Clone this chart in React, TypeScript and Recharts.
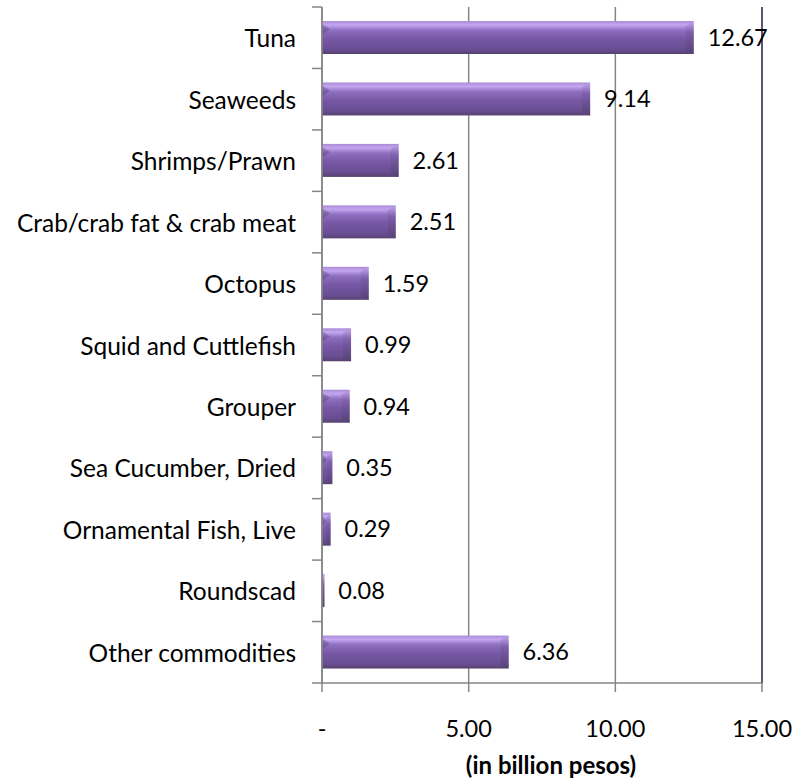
import React from 'react';
import { BarChart, Bar, XAxis, YAxis, CartesianGrid, LabelList, ReferenceLine } from 'recharts';

// categories and export values (billion pesos), top to bottom
const categories = [
  'Tuna',
  'Seaweeds',
  'Shrimps/Prawn',
  'Crab/crab fat & crab meat',
  'Octopus',
  'Squid and Cuttlefish',
  'Grouper',
  'Sea Cucumber, Dried',
  'Ornamental Fish, Live',
  'Roundscad',
  'Other commodities',
];
const values = [12.67, 9.14, 2.61, 2.51, 1.59, 0.99, 0.94, 0.35, 0.29, 0.08, 6.36];
const xTicks = [0, 5, 10, 15];

const data = categories.map((name, i) => ({ name, value: values[i] }));

const FONT = 'Lato, "Open Sans", sans-serif';
const AXIS_GRAY = '#868686';
const BORDER = '#4a3a62';

const CategoryTick = (props: any) => {
  const { x, y, payload } = props;
  const half = payload && payload.offset ? payload.offset : 30.7;
  const axisX = x + 26;
  const last = payload.index === categories.length - 1;
  return (
    <g>
      <line x1={axisX - 10} x2={axisX} y1={y - half} y2={y - half} stroke={AXIS_GRAY} strokeWidth={1.5} />
      {last && <line x1={axisX - 10} x2={axisX} y1={y + half} y2={y + half} stroke={AXIS_GRAY} strokeWidth={1.5} />}
      <text x={x} y={y} textAnchor="end" dominantBaseline="central" fontSize={24.5} fontFamily={FONT} fill="#000">
        {payload.value}
      </text>
    </g>
  );
};

const BevelBar = (props: any) => {
  const { x, y, width, height } = props;
  if (!width || width <= 0) return null;
  const b = Math.min(8, width / 2);
  return (
    <g>
      <rect x={x} y={y} width={width} height={height} fill="url(#barGrad)" />
      <polygon
        points={`${x},${y + 3} ${x + b},${y + 8} ${x},${y + 14}`}
        fill="#4e3a6e"
        opacity={0.35}
      />
      <polygon
        points={`${x + width - b},${y + 5} ${x + width},${y} ${x + width},${y + height} ${x + width - b},${y + height - 4}`}
        fill="url(#capGrad)"
        opacity={0.8}
      />
    </g>
  );
};

export default function App() {
  return (
    <div style={{ position: 'absolute', left: 0, top: 0 }}>
      <BarChart
        width={796}
        height={781}
        data={data}
        layout="vertical"
        margin={{ top: 7, right: 34, bottom: 0, left: 0 }}
        barSize={33}
      >
        <defs>
          <linearGradient id="barGrad" x1="0" y1="0" x2="0" y2="1">
            <stop offset="0%" stopColor="#a98bd6" />
            <stop offset="12%" stopColor="#c4a6f0" />
            <stop offset="28%" stopColor="#8e6fc0" />
            <stop offset="55%" stopColor="#7657a4" />
            <stop offset="85%" stopColor="#6a4e94" />
            <stop offset="100%" stopColor="#56426f" />
          </linearGradient>
          <linearGradient id="capGrad" x1="0" y1="0" x2="0" y2="1">
            <stop offset="0%" stopColor="#c0a4ea" />
            <stop offset="35%" stopColor="#7a5ca8" />
            <stop offset="100%" stopColor="#54406f" />
          </linearGradient>
        </defs>
        <CartesianGrid horizontal={false} stroke={AXIS_GRAY} strokeWidth={1.5} />
        <XAxis
          type="number"
          domain={[0, 15]}
          ticks={xTicks}
          interval={0}
          height={98}
          tickSize={9}
          tickMargin={28}
          axisLine={{ stroke: AXIS_GRAY, strokeWidth: 1.5 }}
          tickLine={{ stroke: AXIS_GRAY, strokeWidth: 1.5 }}
          tick={{ fontSize: 23.5, fontFamily: FONT, fill: '#000' }}
          tickFormatter={(v: number) => (v === 0 ? '-' : v.toFixed(2))}
          label={{
            value: '(in billion pesos)',
            position: 'insideBottom',
            offset: 7,
            dx: 9,
            style: { fontSize: 24, fontWeight: 'bold', fontFamily: FONT, fill: '#000' },
          }}
        />
        <XAxis
          xAxisId="top"
          type="number"
          orientation="top"
          domain={[0, 15]}
          height={0}
          tick={false}
          tickLine={false}
          axisLine={{ stroke: BORDER, strokeWidth: 1.5 }}
        />
        <YAxis
          type="category"
          dataKey="name"
          width={322}
          interval={0}
          tickSize={10}
          tickMargin={16}
          tickLine={false}
          axisLine={{ stroke: AXIS_GRAY, strokeWidth: 1.5 }}
          tick={<CategoryTick />}
        />
        <ReferenceLine x={15} stroke={BORDER} strokeWidth={1.5} />
        <Bar dataKey="value" shape={<BevelBar />} isAnimationActive={false}>
          <LabelList
            dataKey="value"
            position="right"
            offset={14}
            formatter={(v: number) => v.toFixed(2)}
            style={{ fontSize: 23.5, fontFamily: FONT, fill: '#000' }}
          />
        </Bar>
      </BarChart>
    </div>
  );
}
